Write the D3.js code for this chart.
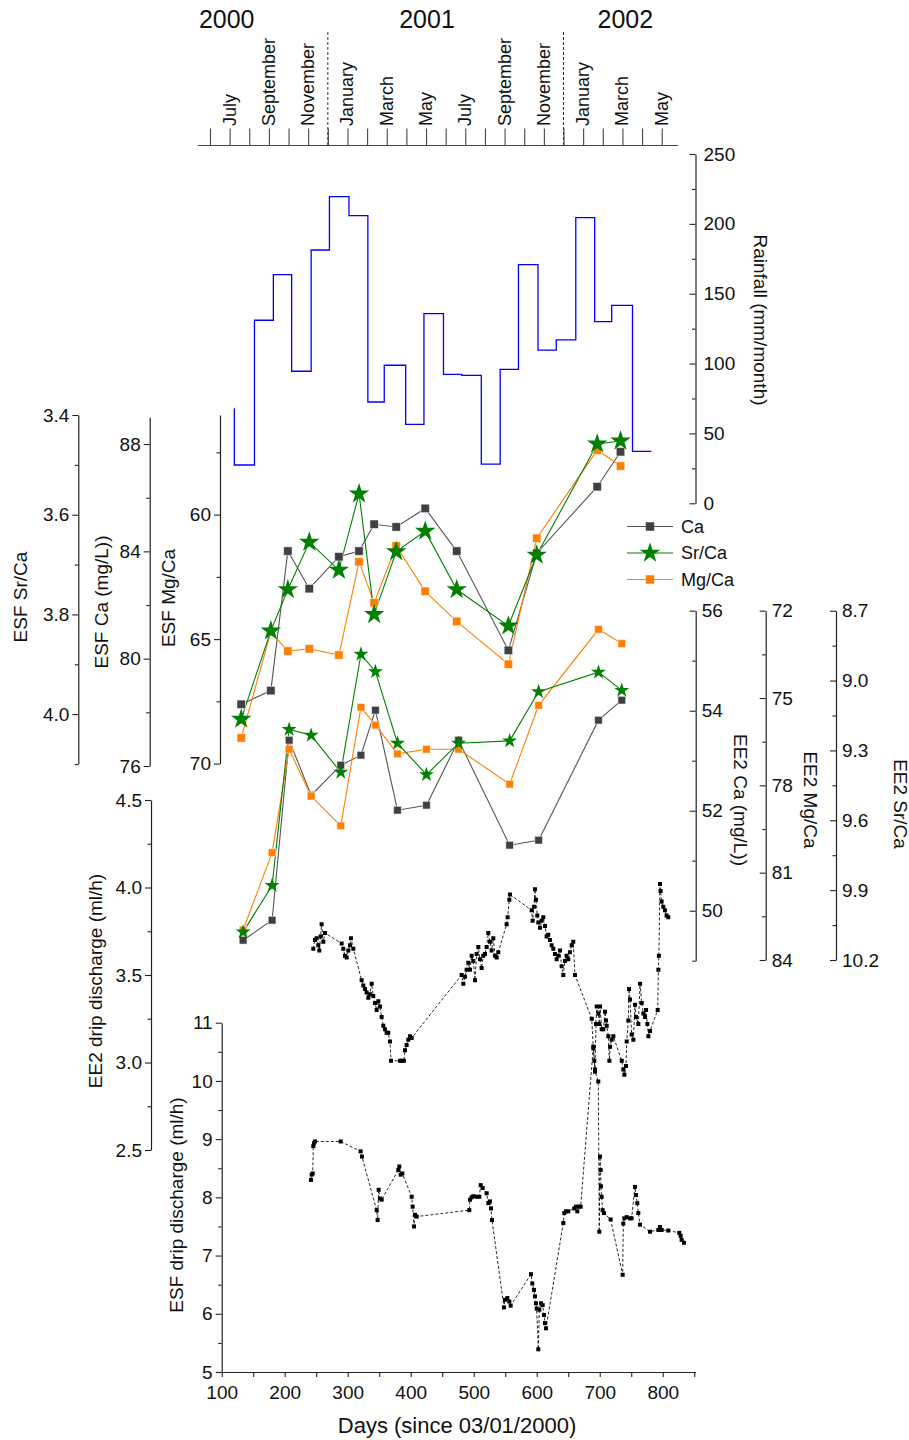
<!DOCTYPE html>
<html><head><meta charset="utf-8">
<script src="https://cdn.jsdelivr.net/npm/d3@7"></script>
<style>
body{margin:0;background:#fff}
text{font-family:"Liberation Sans",Arial,sans-serif;fill:#111}
</style>
</head><body>
<svg id="c" width="909" height="1440"></svg>
<script>
// ---------------- DATA ----------------
const monthNames = ['January','February','March','April','May','June','July','August','September','October','November','December'];
const years = ['2000','2001','2002'];
const yearPos = [0.85, 11.05, 21.15];          // in month index units (0 = June 2000)
const yearDividers = [6, 18];                  // month index of dashed lines

const rainDays = [120,152,182,211,242,271,302,332,358,392,421,452,481,512,542,571,602,631,662,692,719,752,782];
const rainfall = [68,27.4,131,163.6,94.5,181.3,219.5,205.9,72.5,98.8,56.5,135.7,92.3,91.6,28.1,95.9,170.8,109.7,116.9,204.4,130,141.7,37.2];

const esfDays = [131,178,205,239,286,318,342,377,423,473,555,600,696,733];
const esfCa   = [78.30,78.81,84.01,82.61,83.80,84.01,85.01,84.91,85.60,84.01,80.31,83.93,86.41,87.71];
const esfSrCa = [4.010,3.833,3.750,3.655,3.711,3.558,3.800,3.674,3.633,3.750,3.823,3.681,3.458,3.452];
const esfMgCa = [68.97,64.71,65.48,65.39,65.64,61.90,63.54,61.26,63.08,64.29,66.01,60.95,57.41,58.05];

const ee2Days = [134,180,207,242,289,321,344,379,425,476,557,603,698,735];
const ee2Ca   = [49.41,49.81,53.41,52.31,52.91,53.11,54.01,52.01,52.11,53.41,51.31,51.41,53.81,54.21];
const ee2SrCa = [10.08,9.88,9.21,9.235,9.394,8.887,8.962,9.269,9.404,9.269,9.259,9.048,8.964,9.042];
const ee2MgCa = [82.97,80.31,76.76,78.37,79.39,75.32,75.93,76.92,76.76,76.76,77.96,75.25,72.64,73.13];

const ee2DripDays = [245.4,248.0,250.7,253.3,254.9,257.0,258.6,261.3,263.9,290.4,293.0,295.7,298.3,301.0,303.6,305.2,308.9,
 322.1,324.8,327.4,330.0,332.7,335.3,338.0,340.6,343.3,345.9,348.6,351.2,353.8,356.5,359.1,361.8,364.4,367.1,368.7,
 383.0,385.6,389.3,390.9,393.5,396.2,398.8,401.5,
 480.8,483.5,486.1,488.7,491.4,494.0,496.7,499.3,502.0,504.6,507.3,509.9,512.5,515.2,517.8,520.5,523.1,525.8,528.4,531.1,533.7,536.4,539.0,
 552.2,553.8,556.5,557.5,591.9,593.5,595.6,597.2,598.8,600.9,602.5,605.1,607.8,610.4,613.1,615.7,618.3,621.0,623.6,626.3,628.9,631.6,634.2,636.9,639.5,642.2,644.8,647.4,650.1,652.7,655.4,658.0,660.7,
 687.3,689.9,691.5,692.5,694.1,695.2,697.8,699.4,700.5,703.1,705.8,708.4,710.0,711.1,713.7,715.3,716.4,719.0,721.6,
 734.9,737.5,739.1,741.7,742.8,745.4,746.5,748.1,750.7,753.4,756.0,757.6,761.3,764.0,766.6,769.3,771.9,773.5,775.6,777.2,779.8,
 792.0,793.1,793.9,795.6,796.6,798.2,800.9,803.5,806.1,808.8];
const ee2Drip = [3.65,3.70,3.71,3.67,3.64,3.72,3.79,3.69,3.74,3.68,3.65,3.61,3.60,3.64,3.67,3.71,3.65,
 3.47,3.44,3.42,3.40,3.37,3.39,3.45,3.38,3.34,3.30,3.35,3.32,3.26,3.21,3.19,3.17,3.17,3.12,3.01,
 3.01,3.01,3.01,3.07,3.10,3.13,3.15,3.14,
 3.50,3.45,3.49,3.53,3.57,3.53,3.61,3.58,3.47,3.62,3.66,3.59,3.54,3.61,3.62,3.66,3.74,3.69,3.64,3.71,3.61,3.60,3.63,
 3.79,3.83,3.93,3.96,3.87,3.81,3.89,3.99,3.93,3.84,3.80,3.77,3.81,3.83,3.78,3.72,3.73,3.70,3.67,3.65,3.62,3.59,3.61,3.64,3.55,3.50,3.58,3.61,3.59,3.63,3.67,3.69,3.50,
 3.25,3.08,3.01,2.96,3.22,3.32,3.28,3.22,3.32,3.19,3.19,3.29,3.24,3.21,3.15,3.01,3.09,3.13,3.15,
 3.01,2.96,2.93,2.98,3.12,3.24,3.42,3.36,3.16,3.13,3.33,3.26,3.22,3.45,3.34,3.28,3.26,3.30,3.22,3.15,3.18,
 3.30,3.53,3.61,4.02,3.98,3.92,3.89,3.87,3.84,3.83];

const esfDripDays = [241.7,242.8,244.4,245.4,246.5,248.1,288.8,320.5,322.6,345.9,347.5,349.1,351.2,353.9,380.3,381.9,384.0,386.7,
 401.5,403.1,405.2,406.8,409.4,493.0,494.1,496.7,499.4,504.7,508.9,511.0,514.2,520.5,523.2,525.8,527.4,529.0,
 548.0,549.6,553.3,556.5,558.6,590.9,593.0,595.6,597.2,598.8,599.9,602.5,604.1,606.8,609.4,611.5,613.1,614.7,
 642.2,643.8,646.4,650.1,659.7,662.3,664.4,667.1,669.7,689.8,692.5,697.7,699.3,700.4,701.4,702.0,703.0,704.6,706.7,717.3,
 736.4,737.4,739.0,742.7,748.0,750.6,755.9,757.5,759.6,761.2,763.9,779.7,793.0,795.6,798.3,808.8,826.3,828.4,830.0,833.7];
const esfDrip = [8.30,8.39,8.41,8.88,8.93,8.96,8.96,8.79,8.70,7.78,7.61,8.13,7.98,7.96,8.47,8.53,8.39,8.41,
 8.01,7.84,7.50,7.70,7.67,7.78,7.96,8.00,8.02,8.01,8.01,8.21,8.16,8.07,7.90,7.93,7.81,7.61,
 6.11,6.24,6.27,6.21,6.14,6.68,6.52,6.41,6.30,6.18,6.09,5.39,6.07,6.18,6.15,5.98,5.84,5.75,
 7.56,7.73,7.76,7.76,7.81,7.84,7.76,7.84,7.84,10.59,10.16,9.99,7.41,8.70,8.47,8.19,8.01,7.78,7.73,7.62,
 6.67,7.55,7.64,7.66,7.64,7.64,8.18,8.04,7.90,7.73,7.53,7.41,7.44,7.49,7.44,7.43,7.39,7.34,7.27,7.22];

const xTicks = [100,200,300,400,500,600,700,800];
const legendNames = ['Ca','Sr/Ca','Mg/Ca'];

// ---------------- STYLE ----------------
const C_CA = '#404040', C_CA_LINE = '#555555', C_SR = '#008000', C_MG = '#ff8000', C_RAIN = '#0000ff';
const TICK_FS = 19, TITLE_FS = 19;

const svg = d3.select('#c');
svg.append('rect').attr('width',909).attr('height',1440).attr('fill','#fff');

// ---------------- SCALES ----------------
const x = d3.scaleLinear().domain([100, 852]).range([221.7, 695.5]);
const mx = d3.scaleLinear().domain([0, 23]).range([210, 661.7]);
const rainY = d3.scaleLinear().domain([0, 250]).range([503.3, 154]);
const esfSrY = d3.scaleLinear().domain([3.4, 4.1]).range([415, 764]);
const esfCaY = d3.scaleLinear().domain([76, 89]).range([766, 417.2]);
const esfMgY = d3.scaleLinear().domain([56, 70]).range([415, 763.6]);
const ee2CaY = d3.scaleLinear().domain([49, 56]).range([960.7, 610.7]);
const ee2MgY = d3.scaleLinear().domain([72, 84]).range([610.7, 960]);
const ee2SrY = d3.scaleLinear().domain([8.7, 10.2]).range([610.7, 960]);
const ee2DripY = d3.scaleLinear().domain([2.5, 4.5]).range([1150, 800]);
const esfDripY = d3.scaleLinear().domain([5, 11]).range([1372, 1022.7]);

function styleAxis(g){
  g.selectAll('.domain').attr('stroke','#222').attr('stroke-width',1.2);
  g.selectAll('.tick line').attr('stroke','#222').attr('stroke-width',1.1);
  g.selectAll('.tick text').attr('font-size',TICK_FS).attr('font-family','"Liberation Sans",Arial,sans-serif').attr('fill','#111');
}
function leftAxis(scale, xpos, major, minor, fmt){
  const g = svg.append('g').attr('transform',`translate(${xpos},0)`);
  g.call(d3.axisLeft(scale).tickValues(major).tickSizeInner(6).tickSizeOuter(0).tickPadding(3).tickFormat(fmt));
  const m = svg.append('g').attr('transform',`translate(${xpos},0)`);
  m.call(d3.axisLeft(scale).tickValues(minor).tickSizeInner(3.5).tickSizeOuter(0).tickFormat(''));
  m.select('.domain').remove();
  styleAxis(g); styleAxis(m);
}
function rightAxisIn(scale, xpos, major, minor, fmt, pad){
  const g = svg.append('g').attr('transform',`translate(${xpos},0)`);
  g.call(d3.axisRight(scale).tickValues(major).tickSizeInner(-6).tickSizeOuter(0).tickPadding(pad||7).tickFormat(fmt));
  const m = svg.append('g').attr('transform',`translate(${xpos},0)`);
  m.call(d3.axisRight(scale).tickValues(minor).tickSizeInner(-3.5).tickSizeOuter(0).tickFormat(''));
  m.select('.domain').remove();
  styleAxis(g); styleAxis(m);
}
function title(txt, xp, yp, ang, fs){
  svg.append('text').attr('transform',`translate(${xp},${yp}) rotate(${ang})`)
    .attr('text-anchor','middle').attr('dominant-baseline','central')
    .attr('font-size',fs||TITLE_FS).text(txt);
}
const f1 = d3.format('.1f'), f0 = d3.format('d');

// ---------------- TOP MONTH AXIS ----------------
const topG = svg.append('g').attr('transform','translate(0,145.5)');
topG.call(d3.axisTop(mx).tickValues(d3.range(24)).tickSizeInner(17).tickSizeOuter(0).tickFormat(''));
topG.select('.domain').remove();
styleAxis(topG);
topG.selectAll('.tick line').attr('stroke','#444');
topG.append('line').attr('x1',mx(-0.61)).attr('x2',mx(23.83)).attr('y1',0).attr('y2',0).attr('stroke','#444').attr('stroke-width',1.2);
d3.range(1,24,2).forEach(i=>{
  svg.append('text').attr('transform',`translate(${mx(i)},126) rotate(-90)`)
    .attr('text-anchor','start').attr('dominant-baseline','central').attr('font-size',18)
    .text(monthNames[(5+i)%12]);
});
yearDividers.forEach(i=>{
  svg.append('line').attr('x1',mx(i)).attr('x2',mx(i)).attr('y1',32).attr('y2',145.5)
    .attr('stroke','#333').attr('stroke-width',1).attr('stroke-dasharray','3,2');
});
years.forEach((yv,i)=>{
  svg.append('text').attr('x',mx(yearPos[i])).attr('y',28).attr('text-anchor','middle').attr('font-size',25).text(yv);
});

// ---------------- AXES ----------------
rightAxisIn(rainY, 695.5, [0,50,100,150,200,250], [25,75,125,175,225], f0, 8);
title('Rainfall (mm/month)', 760, 320, 90);

leftAxis(esfSrY, 78.3, [3.4,3.6,3.8,4.0], [3.5,3.7,3.9,4.1], f1);
leftAxis(esfCaY, 149.7, [76,80,84,88], [78,82,86], f0);
leftAxis(esfMgY, 220, [60,65,70], [57.5,62.5,67.5], f0);
title('ESF Sr/Ca', 20, 597, -90);
title('ESF Ca (mg/L))', 101.7, 602, -90);
title('ESF Mg/Ca', 168.3, 598, -90);

rightAxisIn(ee2CaY, 695.7, [50,52,54,56], [49,51,53,55], f0, 6);
rightAxisIn(ee2MgY, 765.7, [72,75,78,81,84], [73.5,76.5,79.5,82.5], f0, 6);
rightAxisIn(ee2SrY, 836, [8.7,9.0,9.3,9.6,9.9,10.2], [8.85,9.15,9.45,9.75,10.05], f1, 6);
title('EE2 Ca (mg/L))', 740, 800, 90);
title('EE2 Mg/Ca', 810, 800, 90);
title('EE2 Sr/Ca', 900, 804, 90);

leftAxis(ee2DripY, 151, [2.5,3.0,3.5,4.0,4.5], [2.75,3.25,3.75,4.25], f1);
title('EE2 drip discharge (ml/h)', 95, 981, -90);
leftAxis(esfDripY, 221.7, [5,6,7,8,9,10,11], [5.5,6.5,7.5,8.5,9.5,10.5], f0);
title('ESF drip discharge (ml/h)', 176.7, 1205, -90);

const bx = svg.append('g').attr('transform','translate(0,1372)');
bx.call(d3.axisBottom(x).tickValues(xTicks).tickSizeInner(5).tickSizeOuter(0).tickPadding(9).tickFormat(f0));
const bxm = svg.append('g').attr('transform','translate(0,1372)');
bxm.call(d3.axisBottom(x).tickValues(d3.range(150,851,100)).tickSizeInner(5).tickSizeOuter(0).tickFormat(''));
bxm.select('.domain').remove();
styleAxis(bx); styleAxis(bxm);
title('Days (since 03/01/2000)', 457, 1425, 0, 22);

// ---------------- RAINFALL ----------------
const rainData = rainDays.map((d,i)=>({d, v: rainfall[i]}));
svg.append('path').datum(rainData)
  .attr('d', d3.line().x(p=>x(p.d)).y(p=>rainY(p.v)).curve(d3.curveStepBefore))
  .attr('fill','none').attr('stroke',C_RAIN).attr('stroke-width',1.3);

// ---------------- CHEMISTRY ----------------
function series(days, vals, yS, lineColor, fill, sym, size, sw){
  const data = days.map((d,i)=>({d, v: vals[i]}));
  svg.append('path').datum(data)
    .attr('d', d3.line().x(p=>x(p.d)).y(p=>yS(p.v)))
    .attr('fill','none').attr('stroke',lineColor).attr('stroke-width',sw||1.1);
  return {data, yS, fill, sym, size};
}
function markers(s){
  svg.append('g').selectAll('path').data(s.data).join('path')
    .attr('transform',p=>`translate(${x(p.d)},${s.yS(p.v)})`)
    .attr('d', d3.symbol().type(s.sym).size(s.size))
    .attr('fill', s.fill).attr('stroke', s.sym===d3.symbolStar ? 'none' : 'rgba(255,255,255,0.7)').attr('stroke-width',0.8);
}
const s1 = series(esfDays, esfCa, esfCaY, C_CA_LINE, C_CA, d3.symbolSquare, 72);
const s3 = series(esfDays, esfMgCa, esfMgY, C_MG, C_MG, d3.symbolSquare, 72);
const s2 = series(esfDays, esfSrCa, esfSrY, C_SR, C_SR, d3.symbolStar, 130);
const e1 = series(ee2Days, ee2Ca, ee2CaY, C_CA_LINE, C_CA, d3.symbolSquare, 60);
const e3 = series(ee2Days, ee2MgCa, ee2MgY, C_MG, C_MG, d3.symbolSquare, 60);
const e2 = series(ee2Days, ee2SrCa, ee2SrY, C_SR, C_SR, d3.symbolStar, 70);
[s1,s3,s2,e1,e3,e2].forEach(markers);

// legend
const legColors = [[C_CA_LINE,C_CA,d3.symbolSquare,72],[C_SR,C_SR,d3.symbolStar,130],[C_MG,C_MG,d3.symbolSquare,72]];
const legY = d3.scalePoint().domain(legendNames).range([526.5, 579.5]);
legendNames.forEach((n,i)=>{
  const yy = legY(n);
  svg.append('line').attr('x1',627).attr('x2',673).attr('y1',yy).attr('y2',yy).attr('stroke',legColors[i][0]).attr('stroke-width',1.1);
  svg.append('path').attr('transform',`translate(650,${yy})`).attr('d',d3.symbol().type(legColors[i][2]).size(legColors[i][3]))
    .attr('fill',legColors[i][1]);
  svg.append('text').attr('x',681).attr('y',yy).attr('dominant-baseline','central').attr('font-size',18).text(n);
});

// ---------------- DRIP DISCHARGE ----------------
function drip(days, vals, yS){
  const data = days.map((d,i)=>({d, v: vals[i]}));
  svg.append('path').datum(data)
    .attr('d', d3.line().x(p=>x(p.d)).y(p=>yS(p.v)))
    .attr('fill','none').attr('stroke','#111').attr('stroke-width',0.9).attr('stroke-dasharray','3,2');
  svg.append('g').selectAll('rect').data(data).join('rect')
    .attr('x',p=>x(p.d)-2).attr('y',p=>yS(p.v)-2).attr('width',4).attr('height',4).attr('fill','#000');
}
drip(ee2DripDays, ee2Drip, ee2DripY);
drip(esfDripDays, esfDrip, esfDripY);
</script>
</body></html>
